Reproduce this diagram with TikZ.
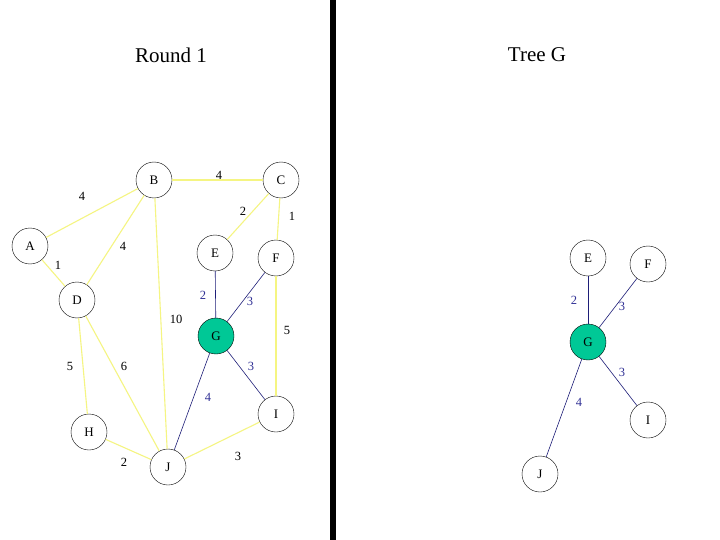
\documentclass[tikz,border=0pt]{standalone}
\usepackage{fontspec}
\setmainfont{Liberation Serif}
\definecolor{ylw}{RGB}{245,245,130}
\definecolor{navy}{RGB}{30,30,120}
\definecolor{lblue}{RGB}{50,50,150}
\definecolor{gfill}{RGB}{0,200,150}
\begin{document}
\begin{tikzpicture}[x=1pt,y=-1pt,
  vtx/.style={circle,draw=black,fill=white,minimum size=36pt,inner sep=0pt,font=\fontsize{13}{13}\selectfont},
  gvtx/.style={vtx,fill=gfill},
  yedge/.style={draw=ylw,line width=1.1pt},
  bedge/.style={draw=navy,line width=0.6pt},
  wlab/.style={font=\fontsize{12.5}{12.5}\selectfont,inner sep=0pt},
  blab/.style={wlab,text=lblue},
  title/.style={font=\fontsize{21}{21}\selectfont,inner sep=0pt}]
\useasboundingbox (0,0) rectangle (720,540);
\fill[white] (0,0) rectangle (720,540);
% titles
\node[title] (t1) at (171,55) {Round 1};
\node[title] (t2) at (537,55) {Tree G};
% divider
\coordinate (d1) at (333,0);
\coordinate (d2) at (333,540);
\draw[line width=5.5pt] (d1) -- (d2);
% left graph nodes
\node[vtx] (B) at (154,180) {B};
\node[vtx] (C) at (281,180) {C};
\node[vtx] (A) at (30,246) {A};
\node[vtx] (E) at (215,253) {E};
\node[vtx] (F) at (276,258) {F};
\node[vtx] (D) at (77,300) {D};
\node[gvtx] (G) at (216,336) {G};
\node[vtx] (I) at (276,414) {I};
\node[vtx] (H) at (89,432) {H};
\node[vtx] (J) at (168,467) {J};
% edges
\path[yedge] (B) -- (C);
\path[yedge] (A) -- (B);
\path[yedge] (C) -- (E);
\path[yedge] (C) -- (F);
\path[yedge] (B) -- (D);
\path[yedge] (A) -- (D);
\path[yedge] (B) -- (J);
\path[yedge] (F) -- (I);
\path[yedge] (D) -- (H);
\path[yedge] (D) -- (J);
\path[yedge] (H) -- (J);
\path[yedge] (J) -- (I);
\path[bedge] (E) -- (G);
\path[bedge] (F) -- (G);
\path[bedge] (G) -- (I);
\path[bedge] (G) -- (J);
% labels
\node[wlab] (l1) at (219,175) {4};
\node[wlab] (l2) at (82,196) {4};
\node[wlab] (l3) at (243,211) {2};
\node[wlab] (l4) at (292,216) {1};
\node[wlab] (l5) at (123,246) {4};
\node[wlab] (l6) at (58,265) {1};
\node[blab] (l7) at (203,295) {2};
\node[blab] (l8) at (250,301) {3};
\node[wlab] (l9) at (176,319) {10};
\node[wlab] (l10) at (287,330) {5};
\node[wlab] (l11) at (70,366) {5};
\node[wlab] (l12) at (124,366) {6};
\node[blab] (l13) at (251,366) {3};
\node[blab] (l14) at (208,397) {4};
\node[wlab] (l15) at (124,462) {2};
\node[wlab] (l16) at (238,456) {3};
% right tree
\node[vtx] (E2) at (588,258) {E};
\node[vtx] (F2) at (648,264) {F};
\node[gvtx] (G2) at (588,342) {G};
\node[vtx] (I2) at (648,420) {I};
\node[vtx] (J2) at (540,474) {J};
\path[bedge] (E2) -- (G2);
\path[bedge] (F2) -- (G2);
\path[bedge] (G2) -- (I2);
\path[bedge] (G2) -- (J2);
\node[blab] (r1) at (574,300) {2};
\node[blab] (r2) at (622,306) {3};
\node[blab] (r3) at (622,372) {3};
\node[blab] (r4) at (579,402) {4};
\end{tikzpicture}
\end{document}
